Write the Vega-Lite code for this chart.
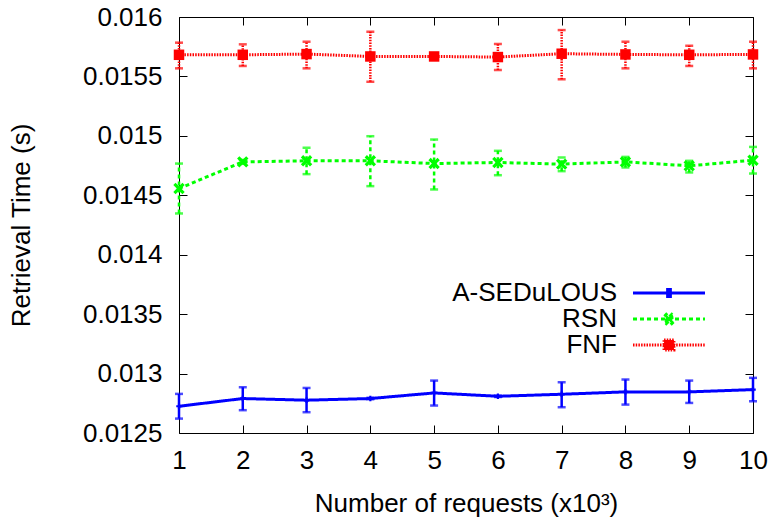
{
  "$schema": "https://vega.github.io/schema/vega-lite/v6.json",
  "autosize": "none",
  "padding": {"left": 179, "top": 17, "right": 19, "bottom": 89},
  "width": 574,
  "height": 416,
  "background": "white",
  "config": {
    "font": "Liberation Sans",
    "view": {"stroke": "#000000", "strokeWidth": 1},
    "axis": {
      "labelFontSize": 26, "labelColor": "#000000", "titleFontSize": 26, "titleFontWeight": "normal",
      "titleColor": "#000000", "tickColor": "#000000", "tickWidth": 1, "grid": false, "domain": false,
      "labelFlush": false, "labelOverlap": false
    }
  },
  "data": {"values": [
    {"series": "A-SEDuLOUS", "n": 1, "mean": 0.012725, "lo": 0.012621, "hi": 0.012829},
    {"series": "A-SEDuLOUS", "n": 2, "mean": 0.01279, "lo": 0.012692, "hi": 0.012885},
    {"series": "A-SEDuLOUS", "n": 3, "mean": 0.012776, "lo": 0.012675, "hi": 0.012879},
    {"series": "A-SEDuLOUS", "n": 4, "mean": 0.01279, "lo": 0.012784, "hi": 0.012796},
    {"series": "A-SEDuLOUS", "n": 5, "mean": 0.012837, "lo": 0.012731, "hi": 0.012941},
    {"series": "A-SEDuLOUS", "n": 6, "mean": 0.012809, "lo": 0.012803, "hi": 0.012815},
    {"series": "A-SEDuLOUS", "n": 7, "mean": 0.012826, "lo": 0.012717, "hi": 0.012927},
    {"series": "A-SEDuLOUS", "n": 8, "mean": 0.012846, "lo": 0.012739, "hi": 0.01295},
    {"series": "A-SEDuLOUS", "n": 9, "mean": 0.012846, "lo": 0.012753, "hi": 0.012941},
    {"series": "A-SEDuLOUS", "n": 10, "mean": 0.012865, "lo": 0.012767, "hi": 0.012964},
    {"series": "RSN", "n": 1, "mean": 0.014557, "lo": 0.014347, "hi": 0.014767},
    {"series": "RSN", "n": 2, "mean": 0.014781, "lo": 0.014765, "hi": 0.014797},
    {"series": "RSN", "n": 3, "mean": 0.01479, "lo": 0.014678, "hi": 0.0149},
    {"series": "RSN", "n": 4, "mean": 0.01479, "lo": 0.014577, "hi": 0.014997},
    {"series": "RSN", "n": 5, "mean": 0.014767, "lo": 0.014549, "hi": 0.014969},
    {"series": "RSN", "n": 6, "mean": 0.014776, "lo": 0.014669, "hi": 0.014874},
    {"series": "RSN", "n": 7, "mean": 0.014762, "lo": 0.014703, "hi": 0.014818},
    {"series": "RSN", "n": 8, "mean": 0.014781, "lo": 0.014734, "hi": 0.014823},
    {"series": "RSN", "n": 9, "mean": 0.014748, "lo": 0.014692, "hi": 0.01479},
    {"series": "RSN", "n": 10, "mean": 0.014795, "lo": 0.014683, "hi": 0.014907},
    {"series": "FNF", "n": 1, "mean": 0.015682, "lo": 0.015568, "hi": 0.015784},
    {"series": "FNF", "n": 2, "mean": 0.015682, "lo": 0.015588, "hi": 0.01577},
    {"series": "FNF", "n": 3, "mean": 0.015688, "lo": 0.015568, "hi": 0.015792},
    {"series": "FNF", "n": 4, "mean": 0.015668, "lo": 0.015455, "hi": 0.015876},
    {"series": "FNF", "n": 5, "mean": 0.015668, "lo": 0.01566, "hi": 0.015676},
    {"series": "FNF", "n": 6, "mean": 0.015663, "lo": 0.015554, "hi": 0.015773},
    {"series": "FNF", "n": 7, "mean": 0.015691, "lo": 0.015476, "hi": 0.01589},
    {"series": "FNF", "n": 8, "mean": 0.015685, "lo": 0.015568, "hi": 0.015792},
    {"series": "FNF", "n": 9, "mean": 0.015682, "lo": 0.015588, "hi": 0.015758},
    {"series": "FNF", "n": 10, "mean": 0.015685, "lo": 0.015568, "hi": 0.015792}
  ]},
  "resolve": {"axis": {"x": "independent", "y": "independent"}},
  "layer": [
    {
      "mark": {"type": "rule", "strokeWidth": 2.5},
      "encoding": {
        "x": {"field": "n", "type": "quantitative", "scale": {"domain": [1, 10], "nice": false, "zero": false}, "axis": null},
        "y": {"field": "lo", "type": "quantitative", "scale": {"domain": [0.0125, 0.016], "nice": false, "zero": false}, "axis": null},
        "y2": {"field": "hi"},
        "color": {"field": "series", "type": "nominal"},
        "strokeDash": {"field": "series", "type": "nominal", "legend": null}
      }
    },
    {
      "mark": {"type": "tick", "orient": "horizontal", "size": 8, "thickness": 2.5},
      "encoding": {
        "x": {"field": "n", "type": "quantitative", "axis": null},
        "y": {"field": "lo", "type": "quantitative", "axis": null},
        "color": {"field": "series", "type": "nominal"}
      }
    },
    {
      "mark": {"type": "tick", "orient": "horizontal", "size": 8, "thickness": 2.5},
      "encoding": {
        "x": {"field": "n", "type": "quantitative", "axis": {"orient": "top", "values": [1,2,3,4,5,6,7,8,9,10], "labels": false, "title": null, "tickSize": -8}},
        "y": {"field": "hi", "type": "quantitative", "axis": {"orient": "right", "values": [0.0125,0.013,0.0135,0.014,0.0145,0.015,0.0155,0.016], "labels": false, "title": null, "tickSize": -8}},
        "color": {"field": "series", "type": "nominal"}
      }
    },
    {
      "mark": {"type": "line", "strokeWidth": 3},
      "encoding": {
        "x": {"field": "n", "type": "quantitative", "axis": {"orient": "bottom", "values": [1,2,3,4,5,6,7,8,9,10], "format": "d", "title": "Number of requests (x10³)", "tickSize": -8, "labelPadding": 22, "titlePadding": 17}},
        "y": {"field": "mean", "type": "quantitative", "axis": {"orient": "left", "values": [0.0125,0.013,0.0135,0.014,0.0145,0.015,0.0155,0.016], "format": "~g", "title": "Retrieval Time (s)", "tickSize": -8, "labelPadding": 25, "titlePadding": 48}},
        "color": {"field": "series", "type": "nominal",
          "scale": {"domain": ["A-SEDuLOUS", "RSN", "FNF"], "range": ["#0000ff", "#00ff00", "#ff0000"]},
          "legend": {
            "orient": "none", "legendX": 477, "legendY": 263, "padding": 0, "title": null,
            "labelFontSize": 26, "labelColor": "#000000", "labelLimit": 400, "labelAlign": "right", "labelOffset": -65,
            "rowPadding": 0, "symbolSize": 529, "symbolStrokeWidth": 3,
            "encode": {"symbols": {"update": {
              "shape": {"signal": "datum.value === 'A-SEDuLOUS' ? 'M-3.13,0H3.13M-0.12,-0.3H0.12V0.3H-0.12Z' : datum.value === 'RSN' ? 'M-3.13,0H3.13M-0.4,-0.24L-0.24,-0.4L0,-0.16L0.24,-0.4L0.4,-0.24L0.16,0L0.4,0.24L0.24,0.4L0,0.16L-0.24,0.4L-0.4,0.24L-0.16,0Z' : 'M-3.13,0H3.13M-0.43,-0.43H0.43V0.43H-0.43Z'"},
              "size": {"value": 529},
              "fill": {"scale": "color", "field": "value"},
              "stroke": {"scale": "color", "field": "value"},
              "strokeDash": {"scale": "strokeDash", "field": "value"},
              "fillOpacity": {"value": 1},
              "strokeOpacity": {"value": 1},
              "opacity": {"value": 1},
              "strokeWidth": {"value": 3}
            }}}
          }
        },
        "strokeDash": {"field": "series", "type": "nominal",
          "scale": {"domain": ["A-SEDuLOUS", "RSN", "FNF"], "range": [[1, 0], [4, 3], [1.5, 1.2]]},
          "legend": null}
      }
    },
    {
      "transform": [{"filter": "datum.series === 'A-SEDuLOUS'"}],
      "mark": {"type": "point", "filled": true, "opacity": 1, "shape": "cross", "size": 30, "color": "#0000ff"},
      "encoding": {
        "x": {"field": "n", "type": "quantitative", "axis": null},
        "y": {"field": "mean", "type": "quantitative", "axis": null}
      }
    },
    {
      "transform": [{"filter": "datum.series === 'RSN'"}],
      "mark": {"type": "point", "filled": true, "opacity": 1, "shape": "M-1,-0.6L-0.6,-1L0,-0.4L0.6,-1L1,-0.6L0.4,0L1,0.6L0.6,1L0,0.4L-0.6,1L-1,0.6L-0.4,0Z", "size": 130, "color": "#00ff00"},
      "encoding": {
        "x": {"field": "n", "type": "quantitative", "axis": null},
        "y": {"field": "mean", "type": "quantitative", "axis": null}
      }
    },
    {
      "transform": [{"filter": "datum.series === 'FNF'"}],
      "mark": {"type": "point", "filled": true, "opacity": 1, "shape": "square", "size": 110, "color": "#ff0000"},
      "encoding": {
        "x": {"field": "n", "type": "quantitative", "axis": null},
        "y": {"field": "mean", "type": "quantitative", "axis": null}
      }
    }
  ]
}
